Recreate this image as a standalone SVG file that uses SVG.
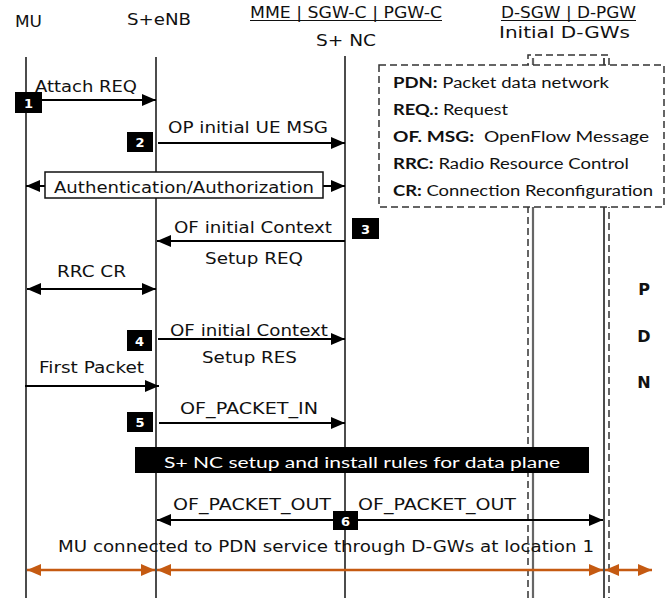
<svg xmlns="http://www.w3.org/2000/svg" width="672" height="598" viewBox="0 0 672 598">
<defs>
<marker id="ah" markerUnits="userSpaceOnUse" markerWidth="14" markerHeight="12" refX="14" refY="6" orient="auto-start-reverse"><path d="M0,0 L14,6 L0,12 z" fill="#000"/></marker>
<marker id="oh" markerUnits="userSpaceOnUse" markerWidth="14" markerHeight="12" refX="14" refY="6" orient="auto-start-reverse"><path d="M0,0 L14,6 L0,12 z" fill="#C55A11"/></marker>
</defs>
<style>
.t{font-family:"DejaVu Sans",Verdana,sans-serif;font-size:16px;fill:#111}
.h{font-size:15px}
.b{font-weight:bold}
.life{stroke:#111;stroke-width:1.5}
.dash{stroke:#333;stroke-width:1.5;stroke-dasharray:7 4;fill:none}
.legbox{stroke:#333;stroke-width:1.5;stroke-dasharray:7 4;fill:#fff}
.msg{stroke:#000;stroke-width:2;fill:none}
.org{stroke:#C55A11;stroke-width:2.5;fill:none}
.nb{fill:#000}
.nt{font-family:"DejaVu Sans",Verdana,sans-serif;font-size:13px;font-weight:bold;fill:#fff;text-anchor:middle}
.leg{font-family:Lato,"Open Sans",sans-serif;font-size:15.5px;fill:#111}
</style>
<rect width="672" height="598" fill="#fff"/>

<g id="lifeline-MU">
<text class="t" x="15" y="27" textLength="27" lengthAdjust="spacingAndGlyphs">MU</text>
<line class="life" x1="26" y1="57" x2="26" y2="598"/>
</g>
<g id="lifeline-eNB">
<text class="t" x="127" y="25" textLength="64" lengthAdjust="spacingAndGlyphs">S+eNB</text>
<line class="life" x1="156" y1="57" x2="156" y2="598"/>
</g>
<g id="lifeline-NC">
<text class="t h" x="250" y="18" textLength="192" lengthAdjust="spacingAndGlyphs">MME | SGW-C | PGW-C</text>
<line x1="250" y1="20.5" x2="442" y2="20.5" stroke="#111" stroke-width="1"/>
<text class="t" x="316" y="46" textLength="60" lengthAdjust="spacingAndGlyphs">S+ NC</text>
<line class="life" x1="345" y1="56" x2="345" y2="598"/>
</g>
<g id="lifeline-DGW">
<text class="t h" x="501" y="18" textLength="135" lengthAdjust="spacingAndGlyphs">D-SGW | D-PGW</text>
<line x1="501" y1="20.5" x2="636" y2="20.5" stroke="#111" stroke-width="1"/>
<text class="t h" x="499" y="38" textLength="131" lengthAdjust="spacingAndGlyphs">Initial D-GWs</text>
<path class="dash" d="M528,598 V55 H609 V598"/>
<line x1="533" y1="58" x2="533" y2="598" stroke="#666" stroke-width="2.2"/>
<line x1="604" y1="58" x2="604" y2="598" stroke="#111" stroke-width="1.5"/>
</g>
<g id="PDN">
<text class="t b" x="644" y="295" text-anchor="middle">P</text>
<text class="t b" x="644" y="342" text-anchor="middle">D</text>
<text class="t b" x="644" y="388" text-anchor="middle">N</text>
</g>
<g id="legend">
<rect class="legbox" x="379" y="65" width="285" height="142"/>
<text class="leg" x="393" y="88" textLength="216" lengthAdjust="spacingAndGlyphs"><tspan font-weight="bold">PDN:</tspan> Packet data network</text>
<text class="leg" x="393" y="115" textLength="115" lengthAdjust="spacingAndGlyphs"><tspan font-weight="bold">REQ.:</tspan> Request</text>
<text class="leg" x="393" y="142" textLength="256" lengthAdjust="spacingAndGlyphs"><tspan font-weight="bold">OF. MSG:</tspan><tspan dx="8">OpenFlow Message</tspan></text>
<text class="leg" x="393" y="169" textLength="236" lengthAdjust="spacingAndGlyphs"><tspan font-weight="bold">RRC:</tspan> Radio Resource Control</text>
<text class="leg" x="393" y="196" textLength="260" lengthAdjust="spacingAndGlyphs"><tspan font-weight="bold">CR:</tspan> Connection Reconfiguration</text>
</g>

<g id="connectors">
<line class="msg" x1="42" y1="100" x2="156" y2="100" marker-end="url(#ah)"/>
<line class="msg" x1="158" y1="143" x2="345" y2="143" marker-end="url(#ah)"/>
<line class="msg" x1="45" y1="186" x2="26" y2="186" marker-end="url(#ah)"/>
<line class="msg" x1="323" y1="186" x2="345" y2="186" marker-end="url(#ah)"/>
<line class="msg" x1="345" y1="241" x2="157" y2="241" marker-end="url(#ah)"/>
<line class="msg" x1="27" y1="289" x2="156" y2="289" marker-start="url(#ah)" marker-end="url(#ah)"/>
<line class="msg" x1="158" y1="339" x2="345" y2="339" marker-end="url(#ah)"/>
<line class="msg" x1="25" y1="386" x2="159" y2="386" marker-end="url(#ah)"/>
<line class="msg" x1="159" y1="423" x2="345" y2="423" marker-end="url(#ah)"/>
<line class="msg" x1="157" y1="520" x2="603" y2="520" marker-start="url(#ah)" marker-end="url(#ah)"/>
<line class="org" x1="27" y1="570" x2="155" y2="570" marker-start="url(#oh)" marker-end="url(#oh)"/>
<line class="org" x1="157" y1="570" x2="603" y2="570" marker-start="url(#oh)" marker-end="url(#oh)"/>
<line class="org" x1="605" y1="570" x2="652" y2="570" marker-start="url(#oh)" marker-end="url(#oh)"/>
</g>

<g id="auth-box">
<rect x="45" y="172" width="278" height="26" fill="#fff" stroke="#111" stroke-width="1.5"/>
<text class="t" x="54" y="193" textLength="260" lengthAdjust="spacingAndGlyphs">Authentication/Authorization</text>
</g>

<g id="banner">
<rect x="135" y="447" width="454" height="26" fill="#000"/>
<text class="leg" x="164" y="468" textLength="396" lengthAdjust="spacingAndGlyphs" style="fill:#fff">S+ NC setup and install rules for data plane</text>
</g>

<g id="labels">
<text class="t" x="35" y="92" textLength="102" lengthAdjust="spacingAndGlyphs">Attach REQ</text>
<text class="t" x="168" y="133" textLength="160" lengthAdjust="spacingAndGlyphs">OP initial UE MSG</text>
<text class="t" x="174" y="233" textLength="158" lengthAdjust="spacingAndGlyphs">OF initial Context</text>
<text class="t" x="205" y="264" textLength="98" lengthAdjust="spacingAndGlyphs">Setup REQ</text>
<text class="t" x="57" y="277" textLength="69" lengthAdjust="spacingAndGlyphs">RRC CR</text>
<text class="t" x="170" y="336" textLength="158" lengthAdjust="spacingAndGlyphs">OF initial Context</text>
<text class="t" x="202" y="363" textLength="95" lengthAdjust="spacingAndGlyphs">Setup RES</text>
<text class="t" x="39" y="373" textLength="105" lengthAdjust="spacingAndGlyphs">First Packet</text>
<text class="t" x="180" y="414" textLength="138" lengthAdjust="spacingAndGlyphs">OF_PACKET_IN</text>
<text class="t" x="173" y="510" textLength="158" lengthAdjust="spacingAndGlyphs">OF_PACKET_OUT</text>
<text class="t" x="358" y="510" textLength="158" lengthAdjust="spacingAndGlyphs">OF_PACKET_OUT</text>
<text class="t" x="58" y="552" textLength="536" lengthAdjust="spacingAndGlyphs">MU connected to PDN service through D-GWs at location 1</text>
</g>

<g id="step-numbers">
<g id="step1"><rect class="nb" x="15" y="92" width="27" height="21"/><text class="nt" x="28.5" y="108">1</text></g>
<g id="step2"><rect class="nb" x="127" y="132" width="26" height="20"/><text class="nt" x="140" y="147">2</text></g>
<g id="step3"><rect class="nb" x="352" y="218" width="27" height="21"/><text class="nt" x="365.5" y="234">3</text></g>
<g id="step4"><rect class="nb" x="127" y="330" width="25" height="21"/><text class="nt" x="139.5" y="346">4</text></g>
<g id="step5"><rect class="nb" x="127" y="412" width="26" height="20"/><text class="nt" x="140" y="427">5</text></g>
<g id="step6"><rect class="nb" x="333" y="511" width="25" height="19"/><text class="nt" x="345.5" y="526">6</text></g>
</g>
</svg>
